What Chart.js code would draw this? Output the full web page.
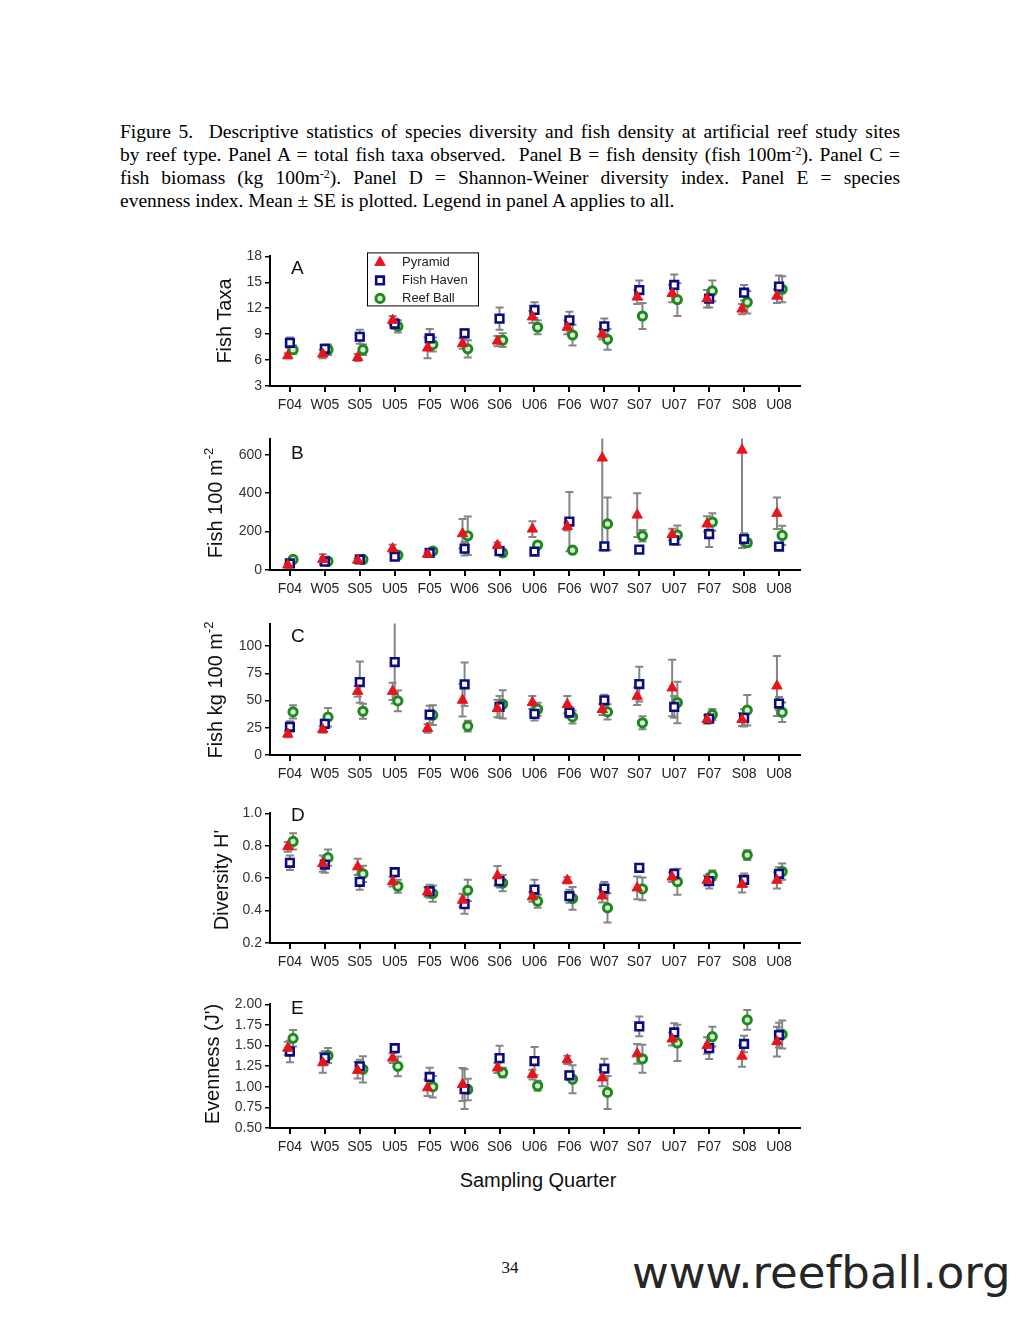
<!DOCTYPE html>
<html lang="en">
<head>
<meta charset="UTF-8">
<title>Figure 5 - Reef type statistics</title>
<script src="https://cdn.jsdelivr.net/npm/chart.js"></script>
<style>
  body { margin: 0; background: #fff; }
  #page { position: relative; width: 1020px; height: 1320px; overflow: hidden; font-family: Arial, "Liberation Sans", sans-serif; color: #111; }
  .caption { position: absolute; left: 120px; top: 120px; width: 780px; font-family: "Liberation Serif", "Times New Roman", serif; font-size: 19.5px; line-height: 23px; color: #000; }
  .caption div { white-space: nowrap; }
  .caption .j { text-align: justify; text-align-last: justify; }
  sup { font-size: 12px; vertical-align: 6px; line-height: 0; }
  .panel { position: absolute; left: 190px; }
  .ytitle { position: absolute; font-size: 20px; white-space: nowrap; transform: translate(-50%, -50%) rotate(-90deg); }
  .ytitle sup { font-size: 13px; vertical-align: 9px; }
  .letter { position: absolute; font-size: 19px; }
  .xtitle { position: absolute; left: 538px; top: 1180px; transform: translate(-50%, -50%); font-size: 20px; }
  .pageno { position: absolute; left: 510px; top: 1268px; transform: translate(-50%, -50%); font-family: "Liberation Serif", serif; font-size: 17px; }
  .site { position: absolute; left: 632px; top: 1246px; font-family: "DejaVu Sans", sans-serif; font-size: 45px; color: #262626; }
</style>
</head>
<body>
<div id="page">
  <div class="caption">
    <div class="j">Figure 5.&nbsp; Descriptive statistics of species diversity and fish density at artificial reef study sites</div>
    <div class="j">by reef type. Panel A = total fish taxa observed.&nbsp; Panel B = fish density (fish 100m<sup>-2</sup>). Panel C =</div>
    <div class="j">fish biomass (kg 100m<sup>-2</sup>). Panel D = Shannon-Weiner diversity index. Panel E = species</div>
    <div>evenness index. Mean ± SE is plotted. Legend in panel A applies to all.</div>
  </div>

  <div class="panel" style="top:245px"><canvas id="chartA" width="620" height="171"></canvas></div>
  <div class="panel" style="top:428px"><canvas id="chartB" width="620" height="172"></canvas></div>
  <div class="panel" style="top:613px"><canvas id="chartC" width="620" height="172"></canvas></div>
  <div class="panel" style="top:802px"><canvas id="chartD" width="620" height="171"></canvas></div>
  <div class="panel" style="top:993px"><canvas id="chartE" width="620" height="165"></canvas></div>

  <div class="ytitle" style="left:224px; top:321px">Fish Taxa</div>
  <div class="ytitle" style="left:215px; top:503px">Fish 100 m<sup>-2</sup></div>
  <div class="ytitle" style="left:215px; top:690px">Fish kg 100 m<sup>-2</sup></div>
  <div class="ytitle" style="left:221px; top:880px">Diversity H'</div>
  <div class="ytitle" style="left:212px; top:1064px">Evenness (J')</div>

  <div class="letter" style="left:291px; top:257px">A</div>
  <div class="letter" style="left:291px; top:442px">B</div>
  <div class="letter" style="left:291px; top:625px">C</div>
  <div class="letter" style="left:291px; top:804px">D</div>
  <div class="letter" style="left:291px; top:997px">E</div>

  <div class="xtitle">Sampling Quarter</div>
  <div class="pageno">34</div>
  <div class="site">www.reefball.org</div>
</div>

<script>
const quarters = ['F04','W05','S05','U05','F05','W06','S06','U06','F06','W07','S07','U07','F07','S08','U08'];
const seriesNames = ['Pyramid', 'Fish Haven', 'Reef Ball'];

// Panel A - fish taxa
const taxaPyramid = [6.5, 6.7, 6.3, 10.6, 7.4, 7.9, 8.2, 11.0, 9.8, 9.0, 13.3, 13.7, 13.1, 11.9, 13.4];
const taxaHaven   = [8.0, 7.3, 8.7, 10.2, 8.5, 9.1, 10.8, 11.8, 10.6, 9.9, 14.1, 14.7, 13.1, 13.8, 14.5];
const taxaReef    = [7.2, 7.2, 7.2, 9.9, 7.8, 7.3, 8.3, 9.8, 8.9, 8.4, 11.1, 13.0, 14.0, 12.7, 14.2];
const taxaPyramidSE = [0.3, 0.5, 0.4, 0.5, 1.2, 0.6, 0.6, 0.7, 0.8, 0.6, 0.8, 1.0, 1.0, 0.6, 0.8];
const taxaHavenSE   = [0.6, 0.5, 0.8, 0.6, 1.1, 0.5, 1.3, 0.9, 1.0, 0.9, 1.1, 1.2, 1.0, 0.9, 1.3];
const taxaReefSE    = [0.5, 0.6, 0.6, 0.7, 0.8, 1.0, 0.8, 0.8, 1.2, 1.2, 1.5, 1.9, 1.2, 1.3, 1.5];

// Panel B - fish density
const densPyramid = [26, 55, 51, 111, 82, 189, 128, 213, 226, 583, 286, 185, 240, 624, 295];
const densHaven   = [34, 43, 55, 69, 89, 111, 98, 96, 252, 123, 106, 154, 187, 161, 122];
const densReef    = [55, 46, 55, 77, 99, 178, 89, 130, 103, 240, 178, 182, 250, 142, 180];
const densPyramidSE = [8, 27, 10, 20, 8, 77, 15, 41, 20, 480, 114, 30, 40, 510, 82];
const densHavenSE   = [8, 8, 8, 8, 8, 35, 10, 8, 154, 15, 8, 20, 67, 30, 12];
const densReefSE    = [6, 8, 6, 10, 8, 100, 18, 10, 6, 137, 30, 50, 45, 20, 50];

// Panel C - fish biomass
const massPyramid = [19.2, 23.5, 58.5, 58.5, 24.4, 50.3, 42.7, 48.2, 46.3, 41.8, 54.0, 61.6, 32.6, 32.6, 63.4];
const massHaven   = [25.9, 28.7, 67.0, 85.4, 37.2, 65.0, 44.2, 37.8, 39.0, 50.3, 65.2, 44.2, 33.5, 34.1, 47.3];
const massReef    = [39.6, 34.8, 40.2, 49.7, 36.6, 26.5, 46.6, 42.1, 35.0, 39.6, 29.6, 48.2, 37.2, 41.2, 39.3];
const massPyramidSE = [3, 3, 5, 8, 4, 15, 8, 6, 8, 5, 8, 26, 4, 6, 27.5];
const massHavenSE   = [5, 4, 19, 38, 8, 20, 10, 6, 5, 5, 16, 10, 4, 8, 6];
const massReefSE    = [6, 8.5, 7, 9.5, 9, 5, 13, 6, 6, 7, 6, 19, 5, 14, 9];

// Panel D - Shannon-Weiner diversity
const divPyramid = [0.794, 0.690, 0.670, 0.578, 0.515, 0.464, 0.615, 0.485, 0.587, 0.490, 0.540, 0.607, 0.587, 0.562, 0.587];
const divHaven   = [0.695, 0.684, 0.578, 0.637, 0.520, 0.440, 0.582, 0.530, 0.489, 0.536, 0.664, 0.627, 0.582, 0.589, 0.627];
const divReef    = [0.827, 0.727, 0.627, 0.550, 0.505, 0.525, 0.570, 0.458, 0.475, 0.417, 0.534, 0.578, 0.617, 0.743, 0.641];
const divPyramidSE = [0.03, 0.05, 0.05, 0.03, 0.03, 0.04, 0.06, 0.03, 0.02, 0.04, 0.07, 0.03, 0.03, 0.05, 0.05];
const divHavenSE   = [0.045, 0.05, 0.05, 0.02, 0.04, 0.06, 0.04, 0.06, 0.04, 0.04, 0.02, 0.03, 0.045, 0.04, 0.04];
const divReefSE    = [0.05, 0.05, 0.05, 0.04, 0.05, 0.065, 0.05, 0.04, 0.07, 0.09, 0.07, 0.08, 0.03, 0.03, 0.05];

// Panel E - evenness
const evenPyramid = [1.468, 1.292, 1.200, 1.348, 0.988, 1.028, 1.228, 1.148, 1.328, 1.108, 1.400, 1.580, 1.500, 1.372, 1.548];
const evenHaven   = [1.428, 1.352, 1.248, 1.468, 1.120, 0.972, 1.348, 1.312, 1.140, 1.220, 1.732, 1.660, 1.468, 1.520, 1.628];
const evenReef    = [1.588, 1.380, 1.212, 1.248, 1.000, 0.968, 1.172, 1.012, 1.092, 0.932, 1.340, 1.532, 1.608, 1.812, 1.636];
const evenPyramidSE = [0.08, 0.12, 0.1, 0.06, 0.1, 0.2, 0.06, 0.06, 0.05, 0.1, 0.12, 0.08, 0.1, 0.13, 0.18];
const evenHavenSE   = [0.13, 0.08, 0.08, 0.05, 0.11, 0.24, 0.15, 0.17, 0.05, 0.12, 0.12, 0.11, 0.13, 0.1, 0.15];
const evenReefSE    = [0.1, 0.09, 0.16, 0.12, 0.13, 0.13, 0.06, 0.06, 0.17, 0.2, 0.17, 0.22, 0.12, 0.12, 0.17];

const ticksA = [3, 6, 9, 12, 15, 18];
const ticksB = [0, 200, 400, 600];
const ticksC = [0, 25, 50, 75, 100];
const ticksD = [0.2, 0.4, 0.6, 0.8, 1.0];
const ticksE = [0.5, 0.75, 1.0, 1.25, 1.5, 1.75, 2.0];

// marker looks per series
const styles = [
  { pointStyle: 'triangle', radius: 6, color: '#e8141c', fill: '#e8141c', bw: 1 },
  { pointStyle: 'rect', radius: 5.4, color: '#0c0c82', fill: '#ffffff', bw: 2.6 },
  { pointStyle: 'circle', radius: 4.1, color: '#1c8a1c', fill: '#d8ecd4', bw: 3 }
];
const offsets = [-0.06, 0, 0.09];

const errorBars = {
  id: 'errorBars',
  beforeDatasetsDraw(chart) {
    const { ctx, chartArea: a, scales: { y } } = chart;
    ctx.save();
    ctx.beginPath();
    ctx.rect(a.left, a.top - 1, a.right - a.left, a.bottom - a.top + 1);
    ctx.clip();
    ctx.strokeStyle = '#858585';
    ctx.lineWidth = 2;
    chart.data.datasets.forEach((ds, di) => {
      chart.getDatasetMeta(di).data.forEach((pt, i) => {
        const v = ds.data[i].y, e = ds.se[i];
        const y1 = y.getPixelForValue(v + e), y2 = y.getPixelForValue(v - e);
        ctx.beginPath();
        ctx.moveTo(pt.x, y1); ctx.lineTo(pt.x, y2);
        ctx.moveTo(pt.x - 4, y1); ctx.lineTo(pt.x + 4, y1);
        ctx.moveTo(pt.x - 4, y2); ctx.lineTo(pt.x + 4, y2);
        ctx.stroke();
      });
    });
    ctx.restore();
  }
};

function drawMarker(ctx, s, x, y) {
  ctx.save();
  ctx.fillStyle = s.fill;
  ctx.strokeStyle = s.color;
  ctx.lineWidth = s.bw;
  ctx.beginPath();
  if (s.pointStyle === 'triangle') {
    ctx.moveTo(x, y - s.radius);
    ctx.lineTo(x + s.radius * 0.866, y + s.radius / 2);
    ctx.lineTo(x - s.radius * 0.866, y + s.radius / 2);
    ctx.closePath();
  } else if (s.pointStyle === 'rect') {
    const h = s.radius * Math.SQRT1_2;
    ctx.rect(x - h, y - h, 2 * h, 2 * h);
  } else {
    ctx.arc(x, y, s.radius, 0, Math.PI * 2);
  }
  ctx.fill();
  ctx.stroke();
  ctx.restore();
}

const boxLegend = {
  id: 'boxLegend',
  afterDraw(chart) {
    const { ctx, chartArea: a } = chart;
    const left = a.left + 97, top = a.top - 4, w = 111, h = 53;
    ctx.save();
    ctx.strokeStyle = '#000';
    ctx.lineWidth = 1;
    ctx.strokeRect(left + 0.5, top + 0.5, w, h);
    ctx.font = '13px Arial, "Liberation Sans", sans-serif';
    ctx.textBaseline = 'middle';
    seriesNames.forEach((n, i) => {
      const cy = top + 10 + i * 18;
      drawMarker(ctx, styles[i], left + 13, cy);
      ctx.fillStyle = '#222';
      ctx.fillText(n, left + 35, cy);
    });
    ctx.restore();
  }
};

function makeChart(id, series, ses, min, max, tickList, decimals, withLegend) {
  const datasets = series.map((vals, k) => ({
    label: seriesNames[k],
    data: vals.map((v, i) => ({ x: i + offsets[k], y: v })),
    se: ses[k],
    pointStyle: styles[k].pointStyle,
    pointRadius: styles[k].radius,
    pointBackgroundColor: styles[k].fill,
    pointBorderColor: styles[k].color,
    pointBorderWidth: styles[k].bw,
    showLine: false
  }));
  return new Chart(document.getElementById(id), {
    type: 'scatter',
    data: { datasets },
    options: {
      responsive: false,
      animation: false,
      events: [],
      layout: { padding: { top: 10, right: 10, left: 0, bottom: 0 } },
      plugins: { legend: { display: false }, tooltip: { enabled: false } },
      scales: {
        x: {
          type: 'linear', min: -0.57, max: 14.6,
          afterBuildTicks: s => { s.ticks = quarters.map((q, i) => ({ value: i })); },
          afterFit: s => { s.height = 30; },
          ticks: {
            autoSkip: false, maxRotation: 0, padding: 5, color: '#222',
            font: { family: 'Arial, "Liberation Sans", sans-serif', size: 14 },
            callback: v => quarters[v]
          },
          grid: { drawOnChartArea: false, drawTicks: true, tickLength: 6, color: '#000', lineWidth: 2 },
          border: { color: '#000', width: 2 }
        },
        y: {
          min: min, max: max,
          afterBuildTicks: s => { s.ticks = tickList.map(v => ({ value: v })); },
          afterFit: s => { s.width = 80; },
          ticks: {
            padding: 3, color: '#333',
            font: { family: 'Arial, "Liberation Sans", sans-serif', size: 14 },
            callback: v => Number(v).toFixed(decimals)
          },
          grid: { drawOnChartArea: false, drawTicks: true, tickLength: 5, color: '#000', lineWidth: 1.5 },
          border: { color: '#000', width: 2 }
        }
      }
    },
    plugins: withLegend ? [errorBars, boxLegend] : [errorBars]
  });
}

makeChart('chartA', [taxaPyramid, taxaHaven, taxaReef], [taxaPyramidSE, taxaHavenSE, taxaReefSE], 3, 18, ticksA, 0, true);
makeChart('chartB', [densPyramid, densHaven, densReef], [densPyramidSE, densHavenSE, densReefSE], 0, 680, ticksB, 0, false);
makeChart('chartC', [massPyramid, massHaven, massReef], [massPyramidSE, massHavenSE, massReefSE], 0, 120, ticksC, 0, false);
makeChart('chartD', [divPyramid, divHaven, divReef], [divPyramidSE, divHavenSE, divReefSE], 0.2, 1.0, ticksD, 1, false);
makeChart('chartE', [evenPyramid, evenHaven, evenReef], [evenPyramidSE, evenHavenSE, evenReefSE], 0.5, 2.0, ticksE, 2, false);
</script>
</body>
</html>
